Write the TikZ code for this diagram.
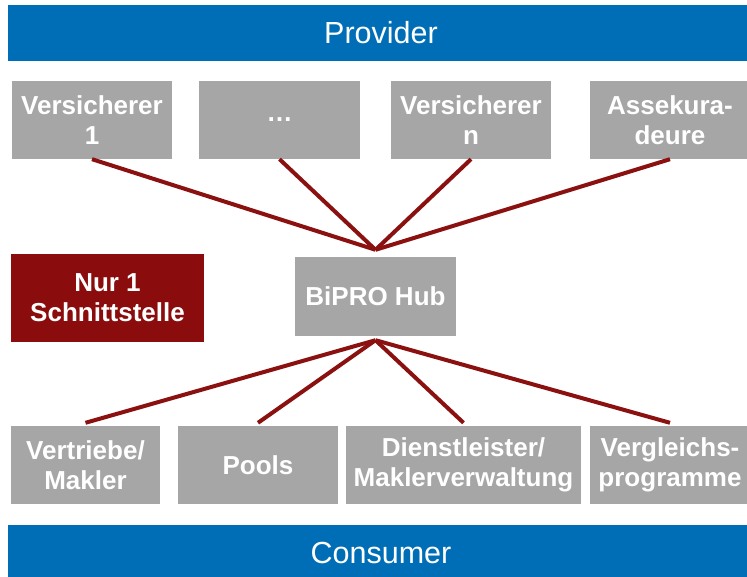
\documentclass[tikz,border=0pt]{standalone}
\usepackage{fontspec}
\setmainfont{Liberation Sans}
\definecolor{barblue}{HTML}{006EB6}
\definecolor{boxgray}{HTML}{A6A6A6}
\definecolor{darkred}{HTML}{8A0C0C}
\definecolor{linered}{HTML}{8B1111}
\tikzset{
  bar/.style={fill=barblue, text=white, inner sep=0pt, minimum height=56pt,
    minimum width=746pt, font=\fontsize{30.5}{34}\selectfont},
  gbox/.style={fill=boxgray, text=white, inner sep=0pt, minimum height=78pt,
    minimum width=160pt, align=center, font=\fontsize{26}{30}\selectfont\bfseries},
  rbox/.style={gbox, fill=darkred, minimum width=193pt, minimum height=88pt},
  link/.style={draw=linered, line width=4pt}
}
\begin{document}
\begin{tikzpicture}[x=1pt,y=-1pt]
\useasboundingbox (0,0) rectangle (747,577);
\clip (0,0) rectangle (747,577);
% bars
\node[bar] (prov) at (381,33) {Provider};
\node[bar] (cons) at (381,553) {Consumer};
% provider boxes
\node[gbox] (v1) at (92,120) {Versicherer\\1};
\node[gbox, minimum width=161pt] (dots) at (279.5,120) {…};
\node[gbox] (vn) at (471,120) {Versicherer\\n};
\node[gbox] (ass) at (670,120) {Assekura-\\deure};
% hub
\node[gbox, minimum width=161pt, minimum height=79pt] (hub) at (375.5,296.5) {BiPRO Hub};
\node[rbox] (nur) at (107.5,298) {Nur 1\\Schnittstelle};
% consumer boxes
\node[gbox, minimum width=149pt] (vm) at (85.5,465) {Vertriebe/\\Makler};
\node[gbox] (pools) at (258,465) {Pools};
\node[gbox, minimum width=235pt] (dl) at (463.5,465) {Dienstleister/\\Maklerverwaltung};
\node[gbox] (vgl) at (670,465) {Vergleichs-\\programme};
% connector points
\coordinate (hubtop) at ([yshift=7pt]hub.north);
\coordinate (hubbot) at ([yshift=-4pt]hub.south);
% connectors
\draw[link] (v1.south) -- (hubtop);
\draw[link] (dots.south) -- (hubtop);
\draw[link] (vn.south) -- (hubtop);
\draw[link] (ass.south) -- (hubtop);
\draw[link] (hubbot) -- ([yshift=3pt]vm.north);
\draw[link] (hubbot) -- ([yshift=3pt]pools.north);
\draw[link] (hubbot) -- ([yshift=3pt]dl.north);
\draw[link] (hubbot) -- ([yshift=3pt]vgl.north);
\end{tikzpicture}
\end{document}
